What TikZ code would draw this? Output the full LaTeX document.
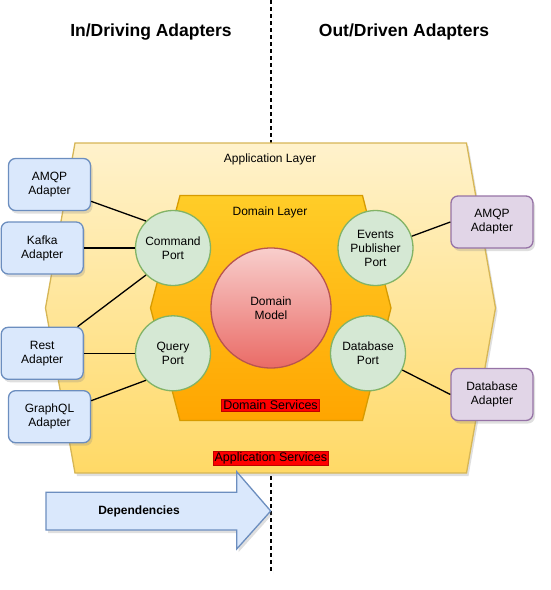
\documentclass[tikz,border=0pt]{standalone}
\usepackage{fontspec}
\setmainfont{Liberation Sans}
\usetikzlibrary{shadows}
\definecolor{appTop}{HTML}{FFF2CC}
\definecolor{appBot}{HTML}{FFD966}
\definecolor{appLine}{HTML}{D6B656}
\definecolor{domTop}{HTML}{FFCD28}
\definecolor{domBot}{HTML}{FFA500}
\definecolor{domLine}{HTML}{D79B00}
\definecolor{modTop}{HTML}{F8CECC}
\definecolor{modBot}{HTML}{EA6B66}
\definecolor{modLine}{HTML}{B85450}
\definecolor{portFill}{HTML}{D5E8D4}
\definecolor{portLine}{HTML}{82B366}
\definecolor{inFill}{HTML}{DAE8FC}
\definecolor{inLine}{HTML}{6C8EBF}
\definecolor{outFill}{HTML}{E1D5E7}
\definecolor{outLine}{HTML}{9673A6}
\begin{document}
\begin{tikzpicture}[x=1pt,y=-1pt,
  shad/.style={drop shadow={opacity=0.25,shadow xshift=2pt,shadow yshift=-3pt}},
  txt/.style={font=\fontsize{12}{14}\selectfont,align=center},
  port/.style={circle,draw=portLine,fill=portFill,line width=1.3pt,minimum size=75pt,inner sep=0pt,txt},
  inad/.style={rectangle,rounded corners=7pt,draw=inLine,fill=inFill,line width=1.3pt,minimum width=82pt,minimum height=52pt,inner sep=0pt,txt,shad},
  outad/.style={rectangle,rounded corners=7pt,draw=outLine,fill=outFill,line width=1.3pt,minimum width=82pt,minimum height=52pt,inner sep=0pt,txt,shad},
  svc/.style={draw=red!75!black,fill=red,line width=0.8pt,inner sep=1.5pt,font=\fontsize{12.5}{14}\selectfont},
  title/.style={font=\fontsize{17.5}{20}\selectfont\bfseries},
  link/.style={line width=1.3pt,black}]
\useasboundingbox (0,0) rectangle (551,590);
% divider
\draw[line width=1.3pt,dash pattern=on 4pt off 3pt,shad] (271,0) coordinate (dtop) -- (271,571) coordinate (dbot);
% application layer
\draw[appLine,line width=1.3pt,top color=appTop,bottom color=appBot,shad]
  (75,143) -- (466.5,143) -- (495.5,308) -- (466.5,473) -- (75,473) -- (45.5,308) -- cycle;
% domain layer
\draw[domLine,line width=1.3pt,top color=domTop,bottom color=domBot]
  (180,195.5) -- (362.5,195.5) -- (391,308) -- (362.5,420.5) -- (180,420.5) -- (150.5,308) -- cycle;
\node[txt] (applbl) at (270,159) {Application Layer};
\node[txt] (domlbl) at (270,212) {Domain Layer};
% domain model
\node[circle,draw=modLine,line width=1.3pt,top color=modTop,bottom color=modBot,minimum size=120pt,inner sep=0pt,txt] (model) at (271,308) {Domain\\Model};
\node[svc] (dsvc) at (270.5,405) {Domain Services};
\node[svc] (asvc) at (270.8,458.3) {Application Services};
% ports
\node[port] (cmd) at (173,248) {Command\\Port};
\node[port] (qry) at (173,353.3) {Query\\Port};
\node[port] (evt) at (375.5,248) {Events\\Publisher\\Port};
\node[port] (dbp) at (368,353.3) {Database\\Port};
% adapters
\node[inad] (amqpin) at (49.5,184.5) {AMQP\\Adapter};
\node[inad] (kafka) at (42.2,248) {Kafka\\Adapter};
\node[inad] (rest) at (42.2,353.3) {Rest\\Adapter};
\node[inad] (gql) at (49.5,416.7) {GraphQL\\Adapter};
\node[outad] (amqpout) at (492,222) {AMQP\\Adapter};
\node[outad] (dbad) at (492,394.5) {Database\\Adapter};
% links
\draw[link] (amqpin.-22) -- (cmd.135);
\draw[link] (kafka.east) -- (cmd.west);
\draw[link] (rest.37) -- (cmd.225);
\draw[link] (rest.east) -- (qry.west);
\draw[link] (gql.21) -- (qry.225);
\draw[link] (evt.18) -- (amqpout.west);
\draw[link] (dbp.-26) -- (dbad.west);
% dependencies arrow
\draw[inLine,fill=inFill,line width=1.3pt,shad]
  (46,492.3) -- (236.7,492.3) -- (236.7,471.7) -- (270.7,511) -- (236.7,549) -- (236.7,530) -- (46,530) -- cycle;
\node[txt,font=\fontsize{12}{14}\selectfont\bfseries] (deps) at (139,511) {Dependencies};
% titles
\node[title] (tin) at (151,32) {In/Driving Adapters};
\node[title] (tout) at (404,32) {Out/Driven Adapters};
\end{tikzpicture}
\end{document}
